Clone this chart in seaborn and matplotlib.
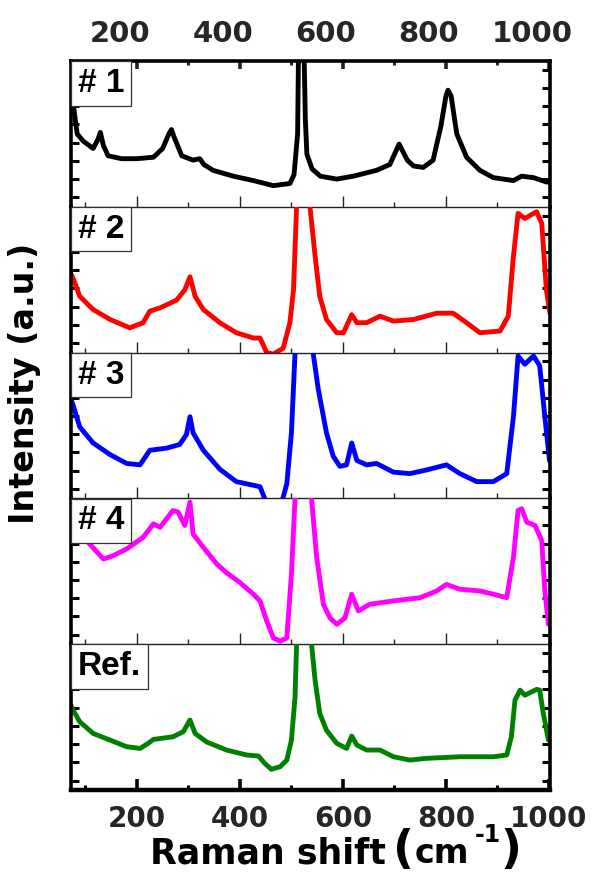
import numpy as np
import pandas as pd
import matplotlib
matplotlib.use('Agg')
import matplotlib.pyplot as plt
import matplotlib.transforms as mtransforms
import seaborn as sns

sns.set_theme(style='white')
plt.rcParams['font.family'] = ['DejaVu Sans']

# ---------------- data (panel height = 0..100) ----------------
x1 = [72, 78, 84, 96, 115, 124, 129, 135, 144, 170, 200, 232, 250, 262, 267, 272, 287, 309,
      322, 330, 348, 387, 426, 465, 497, 505, 512, 515, 522, 527, 530, 540, 556, 588, 620,
      665, 691, 709, 725, 737, 756, 775, 790, 800, 804, 810, 821, 840, 866, 892, 931, 947,
      970, 995, 1002]
y1 = [80, 66, 50, 45, 40, 46, 51, 42, 35, 33, 33, 34, 40, 50, 53, 48, 35, 32,
      33, 29, 25, 21, 18, 14.5, 16, 22, 50, 150, 150, 60, 36, 26, 21, 19, 21,
      25, 29, 43, 32, 28, 27, 32, 55, 76, 80, 76, 50, 34, 25, 20, 18, 21,
      20, 17, 17]

x2 = [72, 76, 89, 115, 148, 186, 212, 225, 245, 277, 293, 303, 313, 329, 361, 393, 426,
      439, 452, 465, 484, 497, 504, 510, 516, 526, 536, 546, 555, 568, 588, 601, 617, 627,
      646, 672, 698, 737, 782, 814, 840, 866, 905, 921, 931, 940, 953, 976, 986, 995, 1002]
y2 = [54, 51, 38.6, 29.5, 22.7, 17, 20.5, 28.4, 30.7, 36, 43, 52, 38.6, 29.5, 20.5, 13.6, 10,
      10, 0, -1, 3, 20.5, 43, 100, 300, 300, 100, 66, 38.6, 22.7, 13.6, 13.6, 26, 20.5,
      20.5, 25, 21.6, 22.7, 27, 27, 20.5, 13.6, 14.8, 25, 66, 95.5, 92, 96.6, 88.6, 43, 27]

x3 = [72, 76, 89, 115, 148, 180, 206, 225, 258, 283, 296, 303, 309, 329, 361, 393, 426,
      439, 448, 452, 470, 481, 491, 500, 507, 515, 530, 542, 552, 568, 581, 594, 607, 617,
      627, 646, 665, 698, 730, 762, 801, 827, 860, 892, 918, 931, 940, 953, 970, 982, 992, 1001]
y3 = [68, 64, 49, 38, 30, 24, 23, 33, 34.5, 37, 43.7, 56, 45, 33, 20, 11.5, 9,
      8, 0, -3, -8, -3, 10, 45, 100, 300, 300, 100, 75, 45, 29, 22, 23, 38,
      26, 23, 24, 18, 17, 19.5, 23, 17, 11.5, 11.5, 17, 56, 97.7, 92, 97.7, 91, 56, 26]

x4 = [72, 90, 105, 135, 154, 180, 212, 232, 245, 270, 280, 293, 303, 309, 329, 355, 374,
      400, 426, 439, 452, 465, 478, 491, 500, 507, 515, 528, 539, 549, 562, 575, 588, 604,
      617, 630, 652, 698, 750, 782, 801, 827, 866, 892, 918, 931, 940, 947, 957, 973, 986,
      992, 999]
y4 = [82, 76, 70, 58.4, 60.7, 65.3, 73.3, 82.5, 80.2, 91.7, 90.6, 81.4, 97.5, 75.6, 66.4, 55, 49,
      42.3, 34.3, 29.7, 15.9, 4.3, 2, 4.3, 48, 100, 300, 300, 100, 59.5, 27.4, 18, 13.6, 18,
      34.3, 22.8, 27.4, 29.7, 31.9, 36.5, 41, 37.7, 36.5, 34.3, 31.9, 59.5, 91.7, 92.9, 83.7, 81.4, 71,
      36.5, 13.6]

x5 = [72, 76, 89, 115, 148, 180, 206, 222, 232, 270, 290, 303, 313, 335, 374, 413, 436,
      448, 461, 478, 491, 500, 507, 510, 517, 530, 539, 546, 555, 568, 588, 607, 617, 627,
      646, 672, 698, 730, 762, 827, 892, 918, 927, 934, 944, 953, 976, 982, 989, 999]
y5 = [58, 54.8, 46.8, 38.8, 34.2, 29.7, 28.5, 32, 34.7, 36.5, 40, 48, 38.8, 33, 27.4, 24, 23.3,
      18.3, 14.2, 16, 20.5, 34.2, 64, 100, 300, 300, 100, 75, 52.5, 41, 32, 28.5, 37, 30.8,
      27.4, 27.4, 22.8, 20.5, 21.7, 22.8, 22.8, 24, 36.5, 61.6, 68.5, 65, 69, 68.5, 52.5, 34.2]

series_x = [x1, x2, x3, x4, x5]
series_y = [y1, y2, y3, y4, y5]
panel_labels = ['# 1', '# 2', '# 3', '# 4', 'Ref.']
colors = ['#000000', '#FF0000', '#0000FF', '#FF00FF', '#008000']
xticks_major = [200, 400, 600, 800, 1000]
xticks_minor = [100, 300, 500, 700, 900]
x_limits = (72, 1002)
y_limits = (0, 100)
yticks = [6.5, 19, 31.5, 44, 56.5, 69, 81.5, 94]

# ---------------- figure ----------------
W, H = 594, 876
fig = plt.figure(figsize=(W / 100, H / 100), dpi=100)
fig.patch.set_facecolor('white')
gs = fig.add_gridspec(5, 1, left=71 / W, right=550 / W, top=1 - 61 / H,
                      bottom=1 - 790 / H, hspace=0)
axes = []
for i in range(5):
    ax = fig.add_subplot(gs[i], sharex=axes[0] if axes else None)
    axes.append(ax)

for i, ax in enumerate(axes):
    df = pd.DataFrame({'x': series_x[i], 'y': series_y[i]})
    sns.lineplot(data=df, x='x', y='y', ax=ax, color=colors[i], linewidth=3.5,
                 estimator=None, sort=False)
    ax.set_xlim(*x_limits)
    ax.set_ylim(*y_limits)
    ax.set_xlabel('')
    ax.set_ylabel('')
    ax.patch.set_alpha(0)

    ax.set_yticks(yticks)
    ax.tick_params(axis='y', which='major', direction='in', left=True, right=True,
                   length=5.5, width=2.2, color='black', labelleft=False, labelright=False)

    ax.set_xticks(xticks_major)
    ax.set_xticks(xticks_minor, minor=True)
    ax.tick_params(axis='x', which='major', direction='in', bottom=True, top=False,
                   length=8, width=1.0, color='#222222', labelbottom=False, labeltop=False)
    ax.tick_params(axis='x', which='minor', direction='in', bottom=True, top=False,
                   length=3.5, width=1.0, color='#222222')

    for side in ['left', 'right']:
        ax.spines[side].set_linewidth(2.6)
        ax.spines[side].set_color('black')
    ax.spines['top'].set_visible(i == 0)
    ax.spines['top'].set_linewidth(2.6)
    ax.spines['top'].set_color('black')
    if i == 4:
        ax.spines['bottom'].set_linewidth(3.2)
        ax.spines['bottom'].set_color('black')
    else:
        ax.spines['bottom'].set_linewidth(1.0)
        ax.spines['bottom'].set_color('#222222')

    ax.annotate(panel_labels[i], xy=(0, 1), xycoords='axes fraction',
                xytext=(5.0, -5.0), textcoords='offset points', ha='left', va='top',
                fontsize=24, fontweight='bold', family=['Liberation Sans', 'DejaVu Sans'],
                color='black',
                bbox=dict(boxstyle='square,pad=0.2', fc='white', ec='#333333', lw=0.9),
                zorder=10)

# top panel: thick ticks on top with labels
top = axes[0]
top.tick_params(axis='x', which='major', top=True, labeltop=True, pad=9,
                labelsize=21)
top.tick_params(axis='x', which='minor', top=True)
for t in top.xaxis.get_major_ticks():
    t.tick2line.set_markeredgewidth(2.6)
    t.tick2line.set_markersize(6)
    t.tick2line.set_color('black')
for t in top.xaxis.get_minor_ticks():
    t.tick2line.set_markeredgewidth(2.2)
    t.tick2line.set_markersize(3)
    t.tick2line.set_color('black')
offset = mtransforms.ScaledTranslation(-17 / 100, 0, fig.dpi_scale_trans)
for lab in top.get_xticklabels():
    lab.set_fontweight('bold')
    lab.set_transform(lab.get_transform() + offset)

# bottom panel: thick ticks with labels below
bot = axes[4]
bot.tick_params(axis='x', which='major', labelbottom=True, length=8, width=2.6,
                color='black', pad=11, labelsize=20)
bot.tick_params(axis='x', which='minor', length=3.5, width=2.2, color='black')
for lab in bot.get_xticklabels():
    lab.set_fontweight('bold')

# y label
fig.text(25 / W, 1 - 383 / H, 'Intensity (a.u.)', rotation=90, ha='center', va='center',
         fontsize=24, fontweight='bold', color='black')

# x label built from pieces: "Raman shift" + big "(" + "cm" + superscript "-1" + big ")"
renderer = fig.canvas.get_renderer()
baseline_px = 863
start_px = 150
pieces = [  # text, fontsize, vertical shift (px, up), gap before (px)
    ('Raman shift', 25, 0, 0),
    ('(', 33, 0, 7),
    ('cm', 24, 0, 1),
    ('-1', 17, 21, 5),
    (')', 33, 0, 0),
]
objs = []
for txt, fs, dy, gap in pieces:
    t = fig.text(0, 1 - (baseline_px - dy) / H, txt, ha='left', va='baseline',
                 fontsize=fs, fontweight='bold', color='black')
    objs.append(t)
widths = [o.get_window_extent(renderer).width for o in objs]
xpos = start_px
for o, w, p in zip(objs, widths, pieces):
    xpos += p[3]
    o.set_x(xpos / W)
    xpos += w

fig.savefig('out.png', dpi=100, facecolor='white')
